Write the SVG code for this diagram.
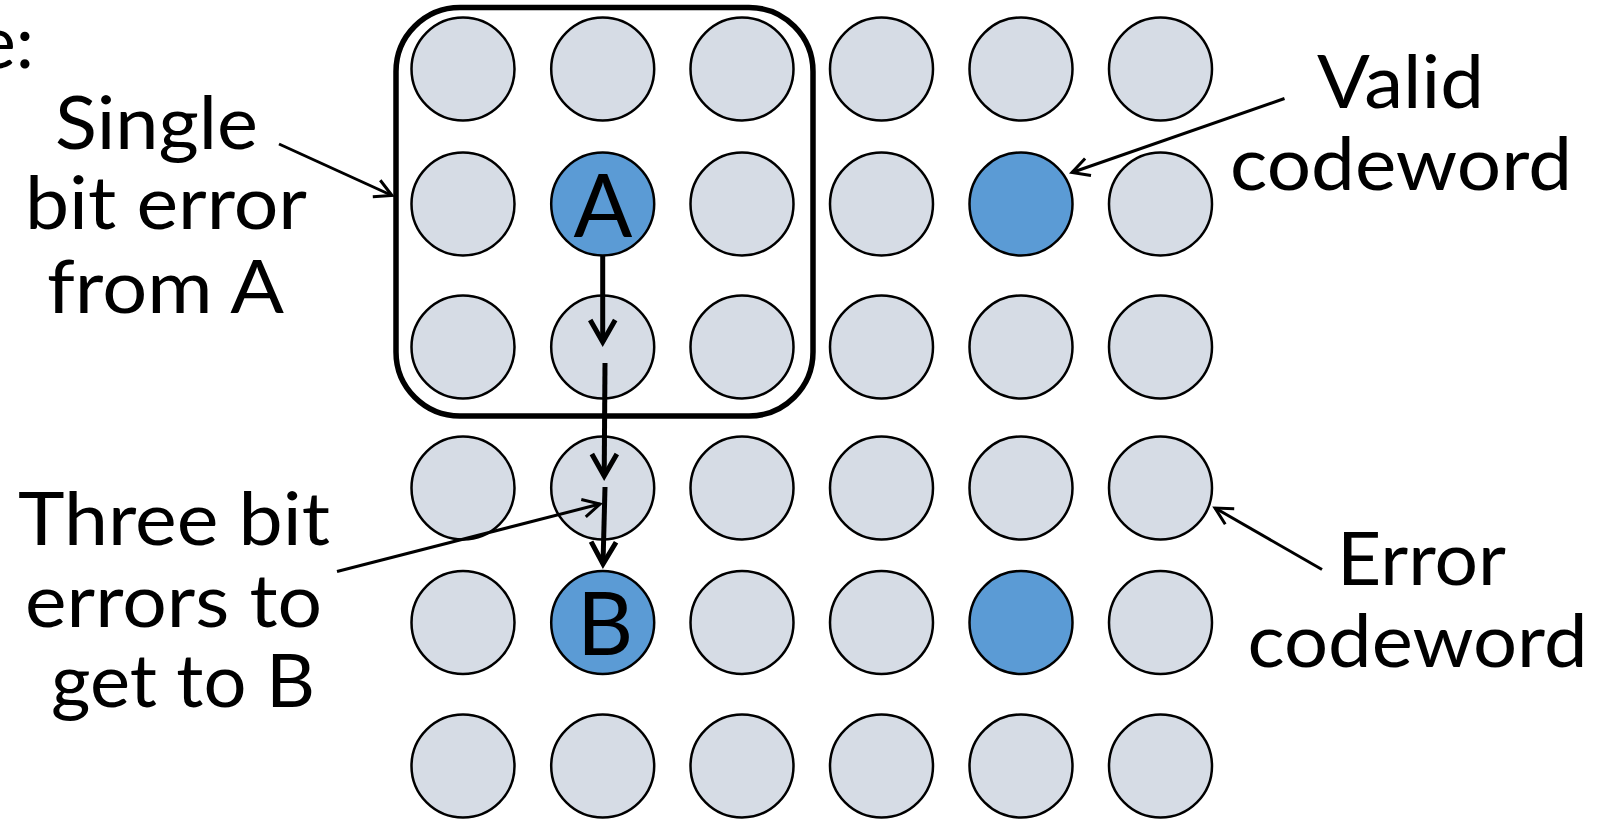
<svg xmlns="http://www.w3.org/2000/svg" width="1624" height="819" viewBox="0 0 1624 819">
<style>
.c{fill:#D6DCE5;stroke:#000;stroke-width:2.5}
.v{fill:#5B9BD5;stroke:#000;stroke-width:2.5}
.t{font-family:Lato,"Open Sans",sans-serif;font-size:73px;fill:#000}
.L{font-family:Lato,"Open Sans",sans-serif;font-size:87px;fill:#000;text-anchor:middle}
.big{fill:none;stroke:#000;stroke-width:5}
.thin{fill:none;stroke:#000;stroke-width:3}
</style>
<defs>
<marker id="hb" markerUnits="userSpaceOnUse" orient="auto" refX="0" refY="0" markerWidth="60" markerHeight="60" viewBox="-40 -30 60 60" overflow="visible">
<path d="M-22,-12.5 L0,0 L-22,12.5" fill="none" stroke="#000" stroke-width="5"/>
</marker>
<marker id="ht" markerUnits="userSpaceOnUse" orient="auto" refX="0" refY="0" markerWidth="40" markerHeight="40" viewBox="-30 -20 40 40" overflow="visible">
<path d="M-17,-9 L0,0 L-17,9" fill="none" stroke="#000" stroke-width="3"/>
</marker>
</defs>
<rect width="1624" height="819" fill="#fff"/>
<g id="frame"><rect x="396" y="7.5" width="417" height="408.5" rx="64" ry="64" fill="none" stroke="#000" stroke-width="5.5"/></g>
<g id="grid">
<g id="r1">
<circle class="c" cx="463" cy="69" r="51.5"/><circle class="c" cx="602.7" cy="69" r="51.5"/><circle class="c" cx="742" cy="69" r="51.5"/><circle class="c" cx="881.5" cy="69" r="51.5"/><circle class="c" cx="1021" cy="69" r="51.5"/><circle class="c" cx="1160.5" cy="69" r="51.5"/>
</g>
<g id="r2">
<circle class="c" cx="463" cy="204" r="51.5"/><g id="nodeA"><circle class="v" cx="602.7" cy="204" r="51.5"/><text class="L" x="603" y="237">A</text></g><circle class="c" cx="742" cy="204" r="51.5"/><circle class="c" cx="881.5" cy="204" r="51.5"/><circle class="v" id="valid1" cx="1021" cy="204" r="51.5"/><circle class="c" cx="1160.5" cy="204" r="51.5"/>
</g>
<g id="r3">
<circle class="c" cx="463" cy="347" r="51.5"/><circle class="c" cx="602.7" cy="347" r="51.5"/><circle class="c" cx="742" cy="347" r="51.5"/><circle class="c" cx="881.5" cy="347" r="51.5"/><circle class="c" cx="1021" cy="347" r="51.5"/><circle class="c" cx="1160.5" cy="347" r="51.5"/>
</g>
<g id="r4">
<circle class="c" cx="463" cy="488" r="51.5"/><circle class="c" cx="602.7" cy="488" r="51.5"/><circle class="c" cx="742" cy="488" r="51.5"/><circle class="c" cx="881.5" cy="488" r="51.5"/><circle class="c" cx="1021" cy="488" r="51.5"/><circle class="c" id="error1" cx="1160.5" cy="488" r="51.5"/>
</g>
<g id="r5">
<circle class="c" cx="463" cy="622.5" r="51.5"/><g id="nodeB"><circle class="v" cx="602.7" cy="622.5" r="51.5"/><text class="L" x="605" y="655">B</text></g><circle class="c" cx="742" cy="622.5" r="51.5"/><circle class="c" cx="881.5" cy="622.5" r="51.5"/><circle class="v" cx="1021" cy="622.5" r="51.5"/><circle class="c" cx="1160.5" cy="622.5" r="51.5"/>
</g>
<g id="r6">
<circle class="c" cx="463" cy="766" r="51.5"/><circle class="c" cx="602.7" cy="766" r="51.5"/><circle class="c" cx="742" cy="766" r="51.5"/><circle class="c" cx="881.5" cy="766" r="51.5"/><circle class="c" cx="1021" cy="766" r="51.5"/><circle class="c" cx="1160.5" cy="766" r="51.5"/>
</g>
</g>
<g id="connectors">
<line class="big" x1="602.7" y1="256" x2="602.7" y2="342" marker-end="url(#hb)"/>
<line class="big" x1="605" y1="363" x2="604.2" y2="476" marker-end="url(#hb)"/>
<line class="big" x1="605" y1="487" x2="603" y2="564" marker-end="url(#hb)"/>
<line class="thin" x1="279" y1="144" x2="392" y2="195.5" marker-end="url(#ht)"/>
<line class="thin" x1="337" y1="571.5" x2="600" y2="504" marker-end="url(#ht)"/>
<line class="thin" x1="1284.5" y1="98.5" x2="1072" y2="172.5" marker-end="url(#ht)"/>
<line class="thin" x1="1322" y1="569.5" x2="1215" y2="508" marker-end="url(#ht)"/>
</g>
<g id="labels">
<text class="t" x="34" y="68" text-anchor="end">e:</text>
<text class="t" x="55" y="149" textLength="203" lengthAdjust="spacingAndGlyphs">Single</text>
<text class="t" x="25" y="229" textLength="282" lengthAdjust="spacingAndGlyphs">bit error</text>
<text class="t" x="47" y="313" textLength="237" lengthAdjust="spacingAndGlyphs">from A</text>
<text class="t" x="18" y="545" textLength="312" lengthAdjust="spacingAndGlyphs">Three bit</text>
<text class="t" x="25" y="627" textLength="297" lengthAdjust="spacingAndGlyphs">errors to</text>
<text class="t" x="51" y="707" textLength="264" lengthAdjust="spacingAndGlyphs">get to B</text>
<text class="t" x="1317" y="107.5" textLength="167" lengthAdjust="spacingAndGlyphs">Valid</text>
<text class="t" x="1230" y="190" textLength="342" lengthAdjust="spacingAndGlyphs">codeword</text>
<text class="t" x="1337" y="585" textLength="169" lengthAdjust="spacingAndGlyphs">Error</text>
<text class="t" x="1247.5" y="667" textLength="340" lengthAdjust="spacingAndGlyphs">codeword</text>
</g>
</svg>
